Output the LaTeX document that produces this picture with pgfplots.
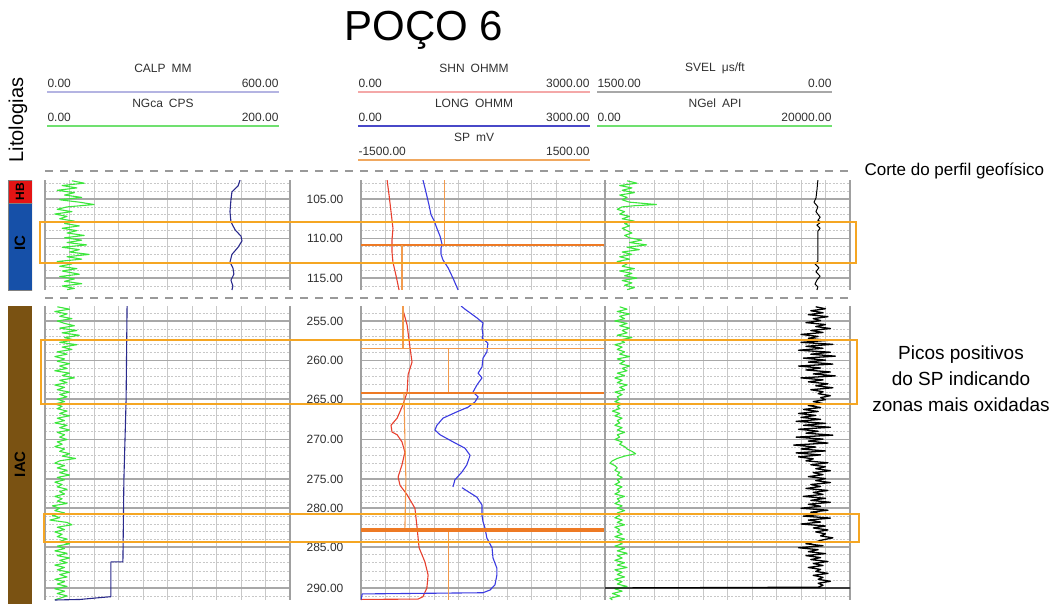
\documentclass[border=0pt]{standalone}
\usepackage{pgfplots}
\pgfplotsset{compat=1.18}
\usepackage{fontspec}
\setmainfont{Liberation Sans}
\definecolor{gridc}{HTML}{C8C8C8}
\definecolor{gridmaj}{HTML}{A8A8A8}
\definecolor{bordc}{HTML}{A0A0A0}
\definecolor{ngreen}{HTML}{3CE63C}
\definecolor{calpc}{HTML}{2A2A8C}
\definecolor{shnc}{HTML}{E8402E}
\definecolor{longc}{HTML}{3A3AE0}
\definecolor{spc}{HTML}{F29A4C}
\definecolor{spthick}{HTML}{EE7A24}
\definecolor{boxc}{HTML}{F5A623}
\definecolor{hbc}{HTML}{E41414}
\definecolor{icc}{HTML}{1650A8}
\definecolor{iacc}{HTML}{7A5212}
\definecolor{hlav}{HTML}{B4B4E2}
\definecolor{hpink}{HTML}{F4A8A8}
\definecolor{hblue}{HTML}{4848C8}
\definecolor{horange}{HTML}{F0A860}
\definecolor{hgrey}{HTML}{A8A8A8}
\definecolor{hgreen}{HTML}{70E070}
\definecolor{txt}{HTML}{303030}
\pgfplotsset{
  track/.style={
    scale only axis, xmin=0, xmax=10, y dir=reverse,
    separate axis lines,
    every outer x axis line/.append style={draw=none},
    every outer y axis line/.append style={draw=bordc, line width=1.6pt},
    xtick={1,2,...,9}, xticklabels={}, yticklabels={},
    major tick length=0pt, minor tick length=0pt,
    xmajorgrids, ymajorgrids, yminorgrids,
    major x grid style={draw=gridc, line width=0.9pt},
    major y grid style={draw=gridmaj, line width=1.6pt},
    minor y grid style={draw=gridc, line width=0.8pt, dash pattern=on 2pt off 1.5pt},
    no markers, every axis plot/.append style={line width=1.1pt, line join=round},
  },
  topsec/.style={height=110pt, ymin=102.6, ymax=116.5, ytick={105,110,115},
    minor ytick={103,104,106,107,108,109,111,112,113,114,116}},
  botsec/.style={height=294pt, ymin=253.1, ymax=290.32,
    ytick={255,260,264.9,270,275,278.7,283.6,288.8},
    minor ytick={254,256,257,258,259,261,262,263,264,266,267,268,269,271,272,273,274,275.75,276.5,277.2,277.95,279.7,280.7,281.6,282.6,284.6,285.6,286.7,287.8,289.8}},
  depthlab/.style={yticklabel style={font=\fontsize{12}{14}\selectfont, text=txt, anchor=center, xshift=-36pt}},
  litho/.style={scale only axis, width=24pt, xmin=0, xmax=1, y dir=reverse, hide axis},
}
\begin{document}
\begin{tikzpicture}
\path[use as bounding box] (0pt,0pt) rectangle (1058pt,-604pt);

% ---------- lithology ----------
\begin{axis}[litho, height=110pt, ymin=102.6, ymax=116.5, at={(8pt,-180pt)}, anchor=north west]
\addplot[fill=hbc, draw=black!50] coordinates {(0,102.6) (1,102.6) (1,105.5) (0,105.5)} -- cycle;
\addplot[fill=icc, draw=black!50] coordinates {(0,105.5) (1,105.5) (1,116.5) (0,116.5)} -- cycle;
\node[rotate=90, font=\fontsize{12}{14}\selectfont\bfseries] at (axis cs:0.5,104.05) {HB};
\node[rotate=90, font=\fontsize{15}{17}\selectfont\bfseries] at (axis cs:0.5,110.6) {IC};
\end{axis}
\begin{axis}[litho, height=298pt, ymin=253.0, ymax=290.7, at={(8pt,-306pt)}, anchor=north west]
\addplot[fill=iacc, draw=none] coordinates {(0,253.0) (1,253.0) (1,290.7) (0,290.7)} -- cycle;
\node[rotate=90, font=\fontsize{15}{17}\selectfont\bfseries] at (axis cs:0.5,273.0) {IAC};
\end{axis}

% ---------- TOP SECTION ----------
% left track: NGca (0-200 CPS) and CALP (0-600 MM), in grid units 0-10
\begin{axis}[track, topsec, width=245pt, at={(45pt,-180pt)}, anchor=north west]
\addplot[ngreen] coordinates {(1.1,102.7) (1.6,103.0) (0.7,103.3) (1.3,103.6) (0.5,103.9) (1.2,104.2) (0.8,104.5) (1.5,104.8) (0.6,105.1) (1.4,105.4) (2.0,105.7) (0.9,106.0) (0.5,106.3) (1.1,106.6) (0.4,106.9) (0.9,107.2) (0.6,107.5) (1.2,107.8) (0.8,108.1) (1.4,108.4) (0.7,108.7) (1.3,109.0) (0.9,109.3) (1.6,109.6) (0.8,109.9) (1.5,110.2) (0.9,110.5) (1.7,110.8) (0.7,111.1) (1.4,111.4) (1.0,111.7) (1.8,112.0) (0.9,112.3) (1.5,112.6) (0.5,112.9) (1.1,113.2) (0.6,113.5) (1.3,113.8) (0.7,114.1) (1.4,114.5) (0.6,114.8) (1.2,115.1) (0.8,115.4) (1.5,115.7) (0.7,116.0) (1.2,116.3) (0.9,116.45)};
\addplot[calpc] coordinates {(7.96,102.6) (7.88,103.35) (7.63,104.1) (7.59,105.1) (7.55,106.6) (7.59,107.9) (7.76,108.9) (8.0,109.7) (8.04,110.3) (7.88,111.1) (7.63,112.0) (7.55,113.0) (7.67,113.7) (7.71,114.5) (7.59,115.25) (7.67,116.0) (7.63,116.5)};
\end{axis}

% middle track: SHN, LONG (0-3000 OHMM), SP (-1500..1500 mV)
\begin{axis}[track, topsec, depthlab, width=244pt, at={(361pt,-180pt)}, anchor=north west,
  yticklabels={105.00,110.00,115.00}]
\addplot[shnc] coordinates {(1.07,102.6) (1.15,104.5) (1.23,106.6) (1.31,108.7) (1.27,110.2) (1.27,111.7) (1.31,113.0) (1.43,114.6) (1.56,116.5)};
\addplot[longc] coordinates {(2.54,102.6) (2.66,104.1) (2.79,105.8) (2.87,107.0) (2.99,107.7) (3.11,108.7) (3.24,109.7) (3.32,110.7) (3.28,111.2) (3.28,112.0) (3.36,112.7) (3.57,113.7) (3.77,115.0) (3.98,116.5)};
\addplot[spc] coordinates {(3.44,102.6) (3.44,110.8)};
\addplot[spthick, line width=2pt] coordinates {(0,110.8) (10,110.8)};
\addplot[spc] coordinates {(1.68,110.8) (1.68,116.5)};
\end{axis}

% right track: SVEL (1500-0 us/ft), NGel (0-20000 API)
\begin{axis}[track, topsec, width=245pt, at={(605pt,-180pt)}, anchor=north west]
\addplot[ngreen] coordinates {(0.9,102.7) (1.3,103.0) (0.6,103.3) (1.1,103.6) (0.7,103.9) (1.2,104.2) (0.6,104.5) (0.9,104.8) (0.7,105.1) (1.0,105.4) (2.1,105.7) (1.2,105.85) (0.7,106.0) (0.5,106.3) (0.8,106.6) (0.6,106.9) (1.0,107.2) (0.7,107.5) (1.2,107.8) (0.8,108.1) (1.0,108.4) (0.7,108.7) (0.9,109.0) (1.1,109.3) (0.8,109.6) (1.0,109.9) (1.5,110.2) (1.0,110.5) (1.7,110.8) (0.9,111.1) (1.4,111.4) (0.7,111.7) (1.1,112.0) (0.6,112.3) (1.0,112.6) (0.5,112.9) (0.9,113.2) (0.7,113.5) (1.2,113.8) (0.6,114.1) (1.1,114.4) (0.8,114.7) (1.3,115.0) (0.7,115.3) (1.1,115.6) (0.8,115.9) (1.2,116.2) (0.9,116.45)};
\addplot[black, line width=1pt] coordinates {(8.69,102.6) (8.65,103.9) (8.61,104.9) (8.53,105.4) (8.69,106.0) (8.61,106.6) (8.78,107.3) (8.69,107.7) (8.82,107.9) (8.65,108.3) (8.78,108.7) (8.69,109.05) (8.69,109.7) (8.69,111.45) (8.69,112.85) (8.57,113.2) (8.73,113.7) (8.61,114.2) (8.78,114.75) (8.65,115.25) (8.57,115.75) (8.69,116.1) (8.65,116.5)};
\end{axis}

% ---------- BOTTOM SECTION ----------
\begin{axis}[track, botsec, width=245pt, at={(45pt,-306pt)}, anchor=north west]
\addplot[ngreen] coordinates {(0.5,253.2) (1.0,253.5) (0.4,253.8) (0.9,254.1) (0.6,254.4) (1.1,254.7) (0.5,255.0) (0.8,255.3) (1.2,255.6) (0.6,255.9) (1.3,256.2) (0.7,256.5) (1.4,256.8) (0.8,257.1) (1.2,257.4) (0.6,257.7) (1.3,258.0) (0.7,258.3) (1.1,258.6) (0.5,258.9) (0.9,259.2) (0.4,259.5) (0.8,259.8) (0.5,260.1) (1.0,260.4) (0.6,260.7) (0.9,261.0) (0.4,261.3) (1.0,261.6) (0.7,261.9) (1.2,262.2) (0.6,262.5) (0.9,262.8) (0.4,263.1) (0.8,263.4) (0.5,263.7) (1.0,264.0) (0.6,264.3) (0.9,264.6) (0.5,264.9) (0.8,265.2) (0.4,265.5) (0.7,265.8) (0.5,266.1) (0.9,266.4) (0.6,266.7) (1.0,267.0) (0.5,267.3) (0.8,267.6) (0.4,267.9) (0.9,268.2) (0.6,268.5) (1.0,268.8) (0.5,269.1) (0.8,269.4) (0.6,269.7) (0.9,270.0) (0.5,270.3) (0.7,270.6) (0.4,270.9) (0.8,271.2) (0.6,271.5) (1.0,271.8) (0.7,272.1) (1.25,272.4) (0.6,272.7) (0.4,273.0) (0.8,273.3) (0.5,273.6) (0.9,273.9) (0.6,274.2) (1.0,274.5) (0.5,274.8) (0.8,275.1) (0.4,275.4) (0.7,275.7) (0.5,276.0) (0.9,276.3) (0.6,276.6) (0.8,276.9) (0.4,277.2) (0.7,277.5) (0.5,277.8) (0.9,278.1) (0.3,278.4) (0.6,278.7) (0.4,279.0) (0.8,279.3) (0.3,279.6) (0.6,279.9) (0.2,280.2) (0.9,280.5) (1.1,280.8) (0.5,281.1) (0.8,281.4) (0.4,281.7) (0.7,282.0) (0.5,282.3) (0.9,282.6) (0.6,282.9) (1.0,283.2) (0.5,283.5) (0.8,283.8) (0.4,284.1) (0.9,284.4) (0.5,284.7) (1.0,285.0) (0.6,285.3) (0.9,285.6) (0.4,285.9) (0.8,286.2) (0.5,286.5) (1.0,286.8) (0.6,287.1) (0.9,287.4) (0.4,287.7) (0.8,288.0) (0.5,288.3) (0.9,288.6) (0.4,288.9) (0.8,289.2) (0.5,289.5) (0.9,289.8) (0.6,290.1) (0.4,290.3)};
\addplot[calpc] coordinates {(3.35,253.1) (3.31,265.0) (3.22,275.1) (3.18,285.5) (2.69,285.5) (2.69,289.9) (2.12,290.05) (1.43,290.25) (0.4,290.32)};
\end{axis}

\begin{axis}[track, botsec, depthlab, width=244pt, at={(361pt,-306pt)}, anchor=north west,
  yticklabels={255.00,260.00,265.00,270.00,275.00,280.00,285.00,290.00}]
\addplot[shnc] coordinates {(1.72,253.1) (1.72,253.6) (1.89,255.5) (2.01,258.4) (2.09,260.2) (1.93,261.8) (1.89,264.0) (1.72,265.6) (1.48,267.3) (1.23,268.2) (1.27,269.05) (1.48,269.4) (1.68,270.3) (1.80,271.6) (1.68,273.2) (1.52,274.75) (1.60,275.8) (1.89,277.0) (2.21,278.7) (2.30,281.2) (2.38,283.7) (2.62,285.5) (2.75,287.15) (2.70,288.8) (2.54,289.9) (2.34,290.2) (0,290.25)};
\addplot[longc] coordinates {(4.1,253.1) (4.26,253.5) (4.75,254.6) (5.0,255.25) (4.96,255.9) (5.0,256.8) (4.96,257.15) (5.2,257.8) (5.16,258.9) (5.0,259.7) (4.96,260.8) (4.80,261.6) (4.96,262.2) (4.75,263.1) (4.59,264.0) (4.80,264.6) (4.67,265.25) (4.39,265.9) (3.93,266.5) (3.36,267.3) (3.11,268.2) (3.03,268.8) (3.24,269.4) (3.77,270.3) (4.26,271.1) (4.47,272.0) (4.34,273.2) (4.14,274.1) (3.85,275.1) (3.77,276.0)};
\addplot[longc] coordinates {(4.14,276.1) (4.39,276.6) (4.75,277.3) (4.96,278.3) (4.96,279.6) (5.0,280.4) (5.08,281.2) (5.16,282.5) (5.37,283.7) (5.41,285.0) (5.57,286.3) (5.57,287.15) (5.49,288.4) (5.29,289.05) (5.0,289.4) (0.05,289.55) (0,290.3)};
\addplot[spc] coordinates {(1.72,253.1) (1.72,258.4)};
\addplot[spc, line width=1.5pt] coordinates {(0,258.45) (10,258.45)};
\addplot[spc] coordinates {(3.57,258.4) (3.57,264.1)};
\addplot[spthick, line width=2.5pt] coordinates {(0,264.1) (10,264.1)};
\addplot[spc] coordinates {(1.76,264.1) (1.80,270.0) (1.84,275.1) (1.80,281.2)};
\addplot[spthick, line width=4.5pt] coordinates {(0,281.45) (10,281.45)};
\addplot[spc] coordinates {(3.57,281.7) (3.57,290.32)};
\end{axis}

\begin{axis}[track, botsec, width=245pt, at={(605pt,-306pt)}, anchor=north west]
\addplot[ngreen] coordinates {(0.6,253.2) (0.9,253.5) (0.5,253.8) (1.0,254.1) (0.6,254.4) (0.8,254.7) (0.4,255.0) (0.9,255.3) (0.6,255.6) (1.0,255.9) (0.7,256.2) (0.9,256.5) (0.5,256.8) (1.1,257.1) (0.6,257.4) (0.8,257.7) (0.4,258.0) (0.7,258.3) (0.5,258.6) (0.8,258.9) (0.6,259.2) (1.0,259.5) (0.5,259.8) (0.8,260.1) (0.6,260.4) (1.0,260.7) (0.7,261.0) (0.9,261.3) (0.5,261.6) (0.8,261.9) (0.4,262.2) (0.7,262.5) (0.5,262.8) (0.9,263.1) (0.6,263.4) (0.8,263.7) (0.4,264.0) (0.7,264.3) (0.5,264.6) (0.6,264.9) (0.4,265.2) (0.7,265.5) (0.5,265.8) (0.6,266.1) (0.3,266.4) (0.6,266.7) (0.4,267.0) (0.7,267.3) (0.5,267.6) (0.6,267.9) (0.4,268.2) (0.7,268.5) (0.5,268.8) (0.8,269.1) (0.5,269.4) (0.6,269.7) (0.4,270.0) (0.7,270.3) (0.6,270.6) (0.8,270.9) (0.9,271.2) (1.1,271.5) (1.25,271.8) (0.8,272.1) (0.5,272.4) (0.3,272.7) (0.2,273.0) (0.4,273.3) (0.5,273.6) (0.4,273.9) (0.6,274.2) (0.5,274.5) (0.7,274.8) (0.5,275.1) (0.6,275.4) (0.4,275.7) (0.7,276.0) (0.5,276.3) (0.6,276.6) (0.4,276.9) (0.8,277.2) (0.5,277.5) (0.6,277.8) (0.4,278.1) (0.7,278.4) (0.5,278.7) (0.8,279.0) (0.5,279.3) (0.6,279.6) (0.4,279.9) (0.7,280.2) (0.5,280.5) (0.8,280.8) (0.4,281.1) (0.6,281.4) (0.5,281.7) (0.7,282.0) (0.4,282.3) (0.8,282.6) (0.5,282.9) (0.7,283.2) (0.4,283.5) (0.8,283.8) (0.5,284.1) (0.9,284.4) (0.5,284.7) (0.7,285.0) (0.4,285.3) (0.8,285.6) (0.5,285.9) (0.9,286.2) (0.4,286.5) (0.7,286.8) (0.5,287.1) (0.8,287.4) (0.4,287.7) (0.7,288.0) (0.5,288.3) (0.9,288.6) (0.4,288.9) (0.7,289.2) (0.3,289.5) (0.6,289.8) (0.2,290.1) (0.3,290.3)};
\addplot[black, line width=1.3pt] coordinates {(8.6,253.2) (9.0,253.45) (8.4,253.7) (8.9,253.95) (8.3,254.2) (9.1,254.45) (8.5,254.7) (8.8,254.95) (8.2,255.2) (9.0,255.45) (8.6,255.7) (9.2,255.95) (8.4,256.2) (8.9,256.45) (8.0,256.7) (8.7,256.95) (8.3,257.2) (9.1,257.45) (8.0,257.7) (9.3,257.95) (8.2,258.2) (8.9,258.45) (7.9,258.7) (9.2,258.95) (8.4,259.2) (9.4,259.45) (8.1,259.7) (9.0,259.95) (8.3,260.2) (9.3,260.45) (7.9,260.7) (8.8,260.95) (8.2,261.2) (9.2,261.45) (8.5,261.7) (9.4,261.95) (8.0,262.2) (8.9,262.45) (8.3,262.7) (9.1,262.95) (8.6,263.2) (9.3,263.45) (8.4,263.7) (8.9,263.95) (8.7,264.2) (9.2,264.45) (8.8,264.7) (9.0,264.95) (8.5,265.2) (8.9,265.45) (8.3,265.7) (8.8,265.95) (8.1,266.2) (8.7,266.45) (7.9,266.7) (8.6,266.95) (8.0,267.2) (8.8,267.45) (7.8,267.7) (9.0,267.95) (8.1,268.2) (9.2,268.45) (7.9,268.7) (8.7,268.95) (8.2,269.2) (9.3,269.45) (7.8,269.7) (8.9,269.95) (8.3,270.2) (9.1,270.45) (7.7,270.7) (8.6,270.95) (8.0,271.2) (9.0,271.45) (7.8,271.7) (8.8,271.95) (7.9,272.2) (8.5,272.45) (8.2,272.7) (9.1,272.95) (8.4,273.2) (9.0,273.45) (8.6,273.7) (9.2,273.95) (8.5,274.2) (8.9,274.45) (8.3,274.7) (9.0,274.95) (8.6,275.2) (9.2,275.45) (8.4,275.7) (8.8,275.95) (8.2,276.2) (9.1,276.45) (8.5,276.7) (8.9,276.95) (8.1,277.2) (9.0,277.45) (8.4,277.7) (9.2,277.95) (8.3,278.2) (8.8,278.45) (8.0,278.7) (9.1,278.95) (8.4,279.2) (8.9,279.45) (8.1,279.7) (9.2,279.95) (8.3,280.2) (8.8,280.45) (8.0,280.7) (9.0,280.95) (8.5,281.2) (9.1,281.45) (8.6,281.7) (9.0,281.95) (8.8,282.2) (9.3,282.45) (8.9,282.7) (8.6,282.95) (8.2,283.2) (8.9,283.45) (7.9,283.7) (8.7,283.95) (8.3,284.2) (9.0,284.45) (8.2,284.7) (8.8,284.95) (8.4,285.2) (9.1,285.45) (8.5,285.7) (8.9,285.95) (8.3,286.2) (8.8,286.45) (8.6,286.7) (9.1,286.95) (8.5,287.2) (8.9,287.45) (8.7,287.7) (9.2,287.95) (8.7,288.2) (8.9,288.45) (8.7,288.7) (0,288.8) (10,288.8)};
\end{axis}

\begin{scope}[x=1pt,y=-1pt]
% ---------- title and headers ----------
\node[font=\fontsize{42}{46}\selectfont] at (424,30) {POÇO 6};
\node[rotate=90, font=\fontsize{20}{24}\selectfont] at (18,120) {Litologias};

\begin{scope}[font=\fontsize{12}{14}\selectfont, text=txt]
% left
\node at (163,68) {CALP\enspace MM};
\node[anchor=west] at (44,83) {0.00};
\node[anchor=east] at (282,83) {600.00};
\draw[hlav, line width=1.2pt] (47,92) -- (279,92);
\node at (163,103) {NGca\enspace CPS};
\node[anchor=west] at (44,117) {0.00};
\node[anchor=east] at (282,117) {200.00};
\draw[hgreen, line width=1.5pt] (47,126) -- (279,126);
% middle
\node at (474,68) {SHN\enspace OHMM};
\node[anchor=west] at (355,83) {0.00};
\node[anchor=east] at (593,83) {3000.00};
\draw[hpink, line width=1.2pt] (358,92) -- (590,92);
\node at (474,103) {LONG\enspace OHMM};
\node[anchor=west] at (355,117) {0.00};
\node[anchor=east] at (593,117) {3000.00};
\draw[hblue, line width=1.6pt] (358,126) -- (590,126);
\node at (474,137) {SP\enspace mV};
\node[anchor=west] at (355,151) {-1500.00};
\node[anchor=east] at (593,151) {1500.00};
\draw[horange, line width=1.2pt] (358,160) -- (590,160);
% right
\node at (715,68) {SVEL\enspace μs/ft};
\node[anchor=west] at (594,83) {1500.00};
\node[anchor=east] at (835,83) {0.00};
\draw[hgrey, line width=1.2pt] (597,92) -- (832,92);
\node at (715,103) {NGel\enspace API};
\node[anchor=west] at (594,117) {0.00};
\node[anchor=east] at (835,117) {20000.00};
\draw[hgreen, line width=1.5pt] (597,126) -- (832,126);
\end{scope}

% dashed cut lines
\draw[gray!80, line width=1.5pt, dash pattern=on 8pt off 7pt] (45,171) -- (852,171);
\draw[gray!80, line width=1.5pt, dash pattern=on 8pt off 7pt] (45,298) -- (852,298);
\node[anchor=west, font=\fontsize{17}{20}\selectfont] at (861,171) {Corte do perfil geofísico};

% ---------- highlight boxes and note ----------
\draw[boxc, line width=2pt] (40,222) rectangle (856,263);
\draw[boxc, line width=2pt] (41,340) rectangle (857,404);
\draw[boxc, line width=2pt] (44,514) rectangle (859,542);
\node[align=center, font=\fontsize{19}{26}\selectfont] at (961,379) {Picos positivos\\do SP indicando\\zonas mais oxidadas};
\end{scope}
\end{tikzpicture}
\end{document}
